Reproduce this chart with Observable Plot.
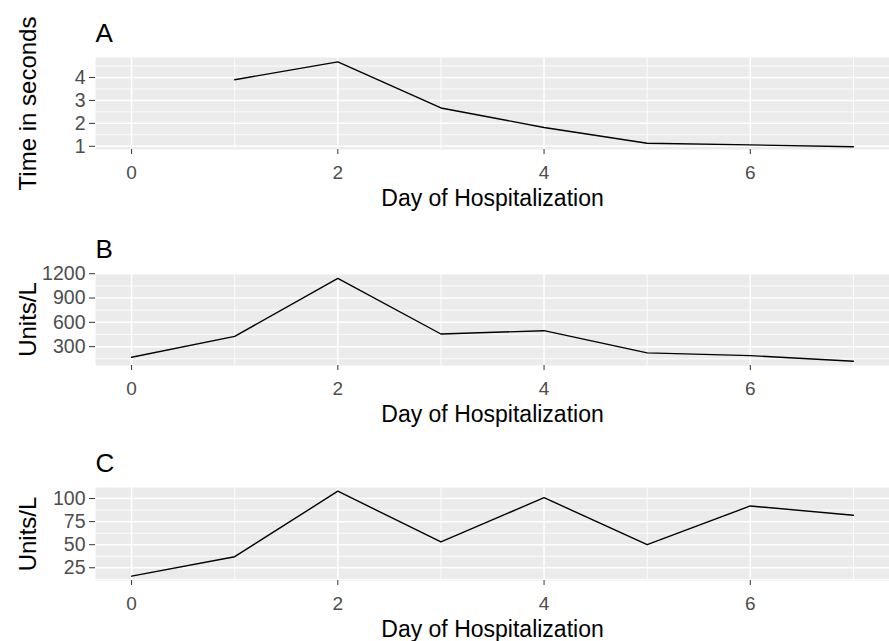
<!DOCTYPE html>
<html>
<head>
<meta charset="utf-8">
<script src="https://cdn.jsdelivr.net/npm/d3@7"></script>
<script src="https://cdn.jsdelivr.net/npm/@observablehq/plot@0.6"></script>
<style>
  html, body { margin: 0; padding: 0; background: #fff; overflow: hidden; }
  #wrap { position: relative; width: 889px; height: 641px; }
  #wrap svg { position: absolute; left: 0; }
</style>
</head>
<body>
<div id="wrap"></div>
<script>
// ---- data ----
const xLabel = "Day of Hospitalization";
const xTicks = [0, 2, 4, 6];
const xMinorTicks = [1, 3, 5, 7];
const xDomain = [-0.35, 7.35];

const daysA = [1, 2, 3, 4, 5, 6, 7];
const valuesA = [3.9, 4.68, 2.67, 1.82, 1.13, 1.06, 0.98];
const yTicksA = [1, 2, 3, 4];
const yMinorA = [1.5, 2.5, 3.5, 4.5];
const yTitleA = "Time in seconds";

const daysB = [0, 1, 2, 3, 4, 5, 6, 7];
const valuesB = [169, 427, 1142, 456, 497, 223, 189, 120];
const yTicksB = [300, 600, 900, 1200];
const yMinorB = [150, 450, 750, 1050];
const yTitleB = "Units/L";

const daysC = [0, 1, 2, 3, 4, 5, 6, 7];
const valuesC = [16, 37, 108, 53, 101, 50, 92, 82];
const yTicksC = [25, 50, 75, 100];
const yMinorC = [12.5, 37.5, 62.5, 87.5];
const yTitleC = "Units/L";

const panelTitles = ["A", "B", "C"];

// ---- drawing ----
const wrap = document.getElementById("wrap");
const font = "'Liberation Sans', Arial, sans-serif";

function panel({title, days, values, yTicks, yMinor, yTitle, yDomain, top, plotHeight, marginBottom}) {
  const data = days.map((d, i) => ({day: d, value: values[i]}));
  const marginTop = 50;
  const svg = Plot.plot({
    width: 889,
    height: marginTop + plotHeight + marginBottom,
    marginTop,
    marginBottom,
    marginLeft: 95,
    marginRight: 0,
    style: {fontFamily: font, background: "transparent", overflow: "visible"},
    x: {domain: xDomain},
    y: {domain: yDomain},
    marks: [
      Plot.frame({fill: "#EBEBEB", stroke: null}),
      Plot.gridY(yMinor, {stroke: "#fff", strokeOpacity: 1, strokeWidth: 0.9}),
      Plot.gridX(xMinorTicks, {stroke: "#fff", strokeOpacity: 1, strokeWidth: 0.9}),
      Plot.gridY(yTicks, {stroke: "#fff", strokeOpacity: 1, strokeWidth: 1.5}),
      Plot.gridX(xTicks, {stroke: "#fff", strokeOpacity: 1, strokeWidth: 1.5}),
      Plot.line(data, {x: "day", y: "value", stroke: "#000", strokeWidth: 1.4}),
      Plot.axisX({ticks: xTicks, tickFormat: d => String(d), tickSize: 5, tickPadding: 11, fontSize: 19, fill: "#4D4D4D", stroke: "#333", label: null}),
      Plot.axisY({ticks: yTicks, tickFormat: d => String(d), tickSize: 6, tickPadding: 4, fontSize: 19.5, fill: "#4D4D4D", stroke: "#333", label: null}),
      Plot.text([xLabel], {text: d => d, frameAnchor: "bottom", dy: 49, fontSize: 23, fill: "#000", lineAnchor: "middle"}),
      Plot.text([yTitle], {text: d => d, frameAnchor: "left", dx: -67, rotate: -90, textAnchor: "middle", fontSize: 24, fill: "#000", lineAnchor: "middle"}),
      Plot.text([title], {text: d => d, frameAnchor: "top-left", dy: -24, textAnchor: "start", fontSize: 26, fill: "#000", lineAnchor: "middle"})
    ]
  });
  svg.style.top = top + "px";
  wrap.appendChild(svg);
}

panel({title: panelTitles[0], days: daysA, values: valuesA, yTicks: yTicksA, yMinor: yMinorA, yTitle: yTitleA,
       yDomain: [0.86, 4.87], top: 7, plotHeight: 92, marginBottom: 62});
panel({title: panelTitles[1], days: daysB, values: valuesB, yTicks: yTicksB, yMinor: yMinorB, yTitle: yTitleB,
       yDomain: [67, 1203], top: 223, plotHeight: 92, marginBottom: 62});
panel({title: panelTitles[2], days: daysC, values: valuesC, yTicks: yTicksC, yMinor: yMinorC, yTitle: yTitleC,
       yDomain: [11.2, 112], top: 437, plotHeight: 93, marginBottom: 61});
</script>
</body>
</html>
